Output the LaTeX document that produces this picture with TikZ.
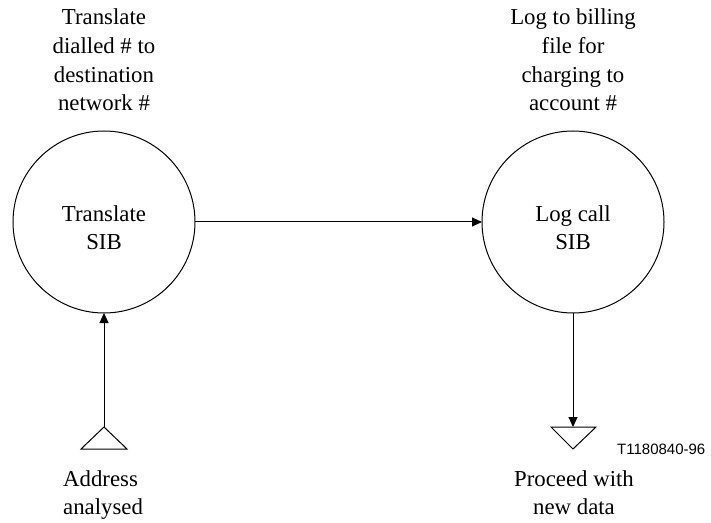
\documentclass[tikz,border=0pt]{standalone}
\usepackage{fontspec}
\setmainfont{Liberation Serif}
\newfontfamily\timesf{Liberation Serif}
\newfontfamily\arialf{Liberation Sans}
\usetikzlibrary{arrows.meta}
\tikzset{
  sib/.style={circle, draw, line width=1bp, minimum size=182bp, inner sep=0pt, outer sep=0pt},
  txt/.style={anchor=base, inner sep=0pt, font=\timesf\fontsize{22.8bp}{28bp}\selectfont},
  flow/.style={line width=1bp, -{Triangle[length=10bp,width=9bp]}},
  tri/.style={line width=1bp, line join=miter},
}
\begin{document}
\begin{tikzpicture}[x=1bp,y=-1bp]
\useasboundingbox (0,0) rectangle (711,523);
% circles
\node[sib] (lc) at (104,222) {};
\node[sib] (rc) at (573,222) {};
% circle texts
\node[txt] (lc1) at (104,222) {Translate};
\node[txt] (lc2) at (104,250) {SIB};
\node[txt] (rc1) at (573,222) {Log call};
\node[txt] (rc2) at (573,250) {SIB};
% top left label
\node[txt] (tl1) at (104,25) {Translate};
\node[txt] (tl2) at (104,53.7) {dialled \# to};
\node[txt] (tl3) at (104,82.3) {destination};
\node[txt] (tl4) at (104,111) {network \#};
% top right label
\node[txt] (tr1) at (573,25) {Log to billing};
\node[txt] (tr2) at (573,53.7) {file for};
\node[txt] (tr3) at (573,82.3) {charging to};
\node[txt] (tr4) at (573,111) {account \#};
% bottom labels
\node[txt, anchor=base west] (bl1) at (63,486.5) {Address};
\node[txt, anchor=base west] (bl2) at (63,514) {analysed};
\node[txt] (br1) at (574,486.5) {Proceed with};
\node[txt] (br2) at (574,514.5) {new data};
% figure id
\node[anchor=base west, inner sep=0pt, font=\arialf\fontsize{15bp}{18bp}\selectfont] (fid) at (617,454) {T1180840-96};
% triangles
\coordinate (ta) at (104,427);
\coordinate (tb) at (573,427);
\draw[tri] (ta) -- (81,449) -- (127,449) -- cycle;
\draw[tri] (551,427) -- (596,427) -- (573,449) -- cycle;
% connectors
\draw[flow] (lc.east) -- (rc.west);
\draw[flow] (ta) -- (lc.south);
\draw[flow] (rc.south) -- (tb);
\end{tikzpicture}
\end{document}
